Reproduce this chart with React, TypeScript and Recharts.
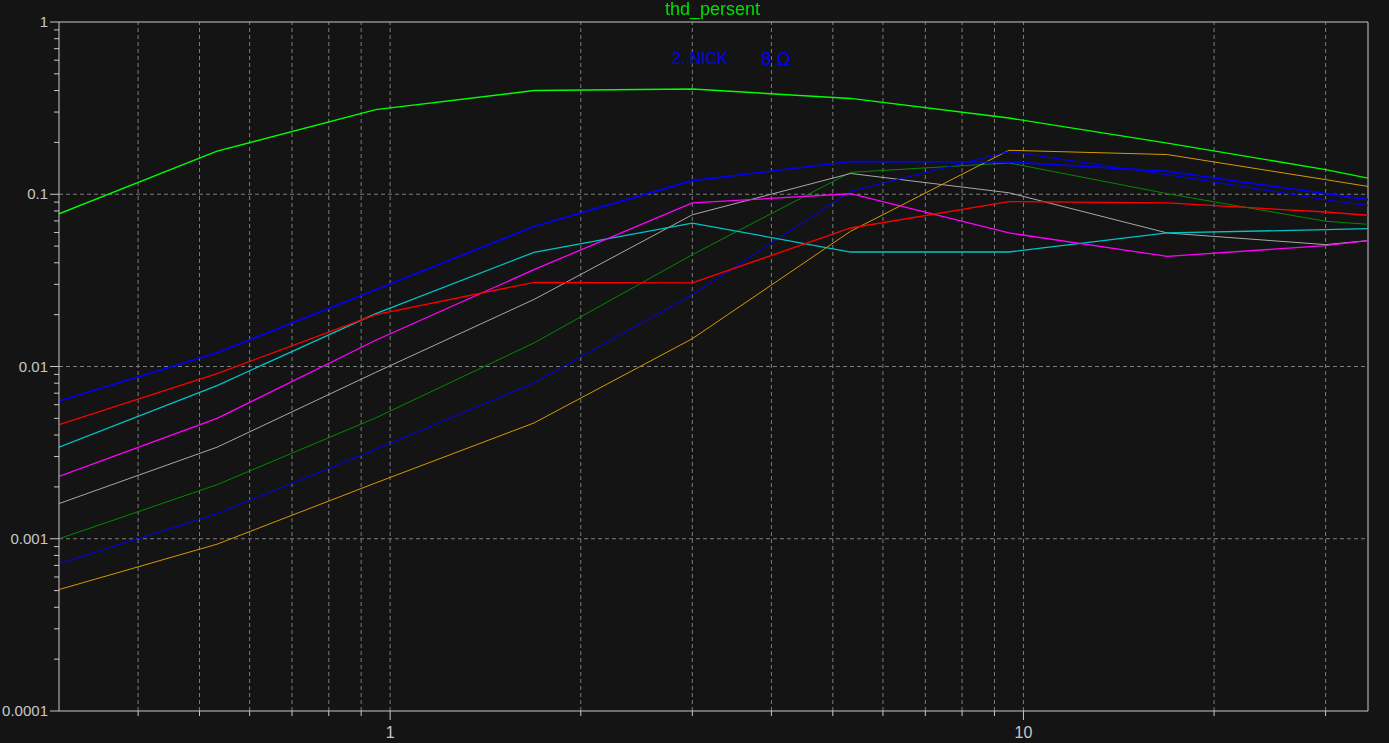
import React from 'react';
import { LineChart, Line, XAxis, YAxis, ReferenceLine } from 'recharts';

// frequency points (x, log scale)
const freqs = [0.3, 0.533, 0.949, 1.687, 3.0, 5.335, 9.487, 16.87, 30, 35];

// thd values per curve
const brightGreen = [0.077, 0.178, 0.31, 0.4, 0.408, 0.36, 0.277, 0.198, 0.139, 0.124];
const blueUpper = [0.0063, 0.012, 0.0279, 0.065, 0.12, 0.155, 0.154, 0.136, 0.1008, 0.093];
const red = [0.0046, 0.0091, 0.02, 0.0308, 0.0306, 0.0637, 0.0906, 0.089, 0.0789, 0.0755];
const cyan = [0.0034, 0.00775, 0.0203, 0.046, 0.068, 0.0462, 0.0462, 0.0596, 0.0623, 0.0631];
const magenta = [0.0023, 0.005, 0.0142, 0.0365, 0.089, 0.1007, 0.0596, 0.0436, 0.0503, 0.0538];
const gray = [0.0016, 0.0034, 0.00925, 0.0245, 0.076, 0.132, 0.102, 0.0596, 0.051, 0.0538];
const darkGreen = [0.001, 0.00206, 0.00503, 0.0137, 0.0446, 0.134, 0.152, 0.1008, 0.0697, 0.0669];
const blueLower = [0.000715, 0.0014, 0.0033, 0.00803, 0.0261, 0.104, 0.177, 0.13, 0.093, 0.0859];
const orange = [0.000507, 0.00093, 0.00211, 0.0047, 0.0145, 0.061, 0.18, 0.17, 0.1216, 0.111];

// axis ticks
const xTicks = [0.4, 0.5, 0.6, 0.7, 0.8, 0.9, 1, 2, 3, 4, 5, 6, 7, 8, 9, 10, 20, 30];
const xLabels = [1, 10];
const yDecades = [0.0001, 0.001, 0.01, 0.1, 1];
const yMinorSteps = [2, 3, 4, 5, 6, 7, 8, 9];
const yGrid = [0.001, 0.01, 0.1];

const yTicks = [
  ...yDecades,
  ...yDecades.slice(0, -1).flatMap(d => yMinorSteps.map(m => +(d * m).toPrecision(3))),
].sort((a, b) => a - b);

const series = [
  { key: 'darkGreen', values: darkGreen, color: '#008a00', width: 1 },
  { key: 'gray', values: gray, color: '#a8a8a8', width: 1 },
  { key: 'orange', values: orange, color: '#d49a00', width: 1 },
  { key: 'blueLower', values: blueLower, color: '#0000ff', width: 1 },
  { key: 'cyan', values: cyan, color: '#00c4c4', width: 1.3 },
  { key: 'magenta', values: magenta, color: '#ff00ff', width: 1.3 },
  { key: 'red', values: red, color: '#ff0000', width: 1.3 },
  { key: 'blueUpper', values: blueUpper, color: '#0000ff', width: 1.6 },
  { key: 'brightGreen', values: brightGreen, color: '#00ff00', width: 1.4 },
];

const data = freqs.map((f, i) => {
  const row: Record<string, number> = { f };
  series.forEach(s => { row[s.key] = s.values[i]; });
  return row;
});

const AXIS = '#c8c8c8';
const GRID = '#7c7c7c';
const FONT = '"Liberation Sans", Arial, sans-serif';

const XTick = (props: any) => {
  const { x, y, payload } = props;
  const major = xLabels.includes(payload.value);
  return (
    <g>
      <line x1={x} x2={x} y1={y} y2={y + (major ? 9 : 5)} stroke={AXIS} />
      {major && (
        <text x={x} y={y + 27} textAnchor="middle" fill={AXIS} fontSize={16} fontFamily={FONT}>
          {payload.value}
        </text>
      )}
    </g>
  );
};

const YTick = (props: any) => {
  const { x, y, payload } = props;
  const major = yDecades.includes(payload.value);
  return (
    <g>
      <line x1={x - (major ? 9 : 5)} x2={x} y1={y} y2={y} stroke={AXIS} />
      {major && (
        <text x={x - 11} y={y + 5} textAnchor="end" fill={AXIS} fontSize={15} fontFamily={FONT}>
          {String(payload.value)}
        </text>
      )}
    </g>
  );
};

export default function App() {
  return (
    <div style={{ position: 'fixed', left: 0, top: 0, width: 1389, height: 743, background: '#141414' }}>
      <LineChart width={1389} height={743} data={data} margin={{ top: 22, right: 21, bottom: 0, left: 0 }}>
        {xTicks.map(v => (
          <ReferenceLine key={'gx' + v} x={v} stroke={GRID} strokeDasharray="4 3" />
        ))}
        {yGrid.map(v => (
          <ReferenceLine key={'gy' + v} y={v} stroke={GRID} strokeDasharray="4 3" />
        ))}
        <ReferenceLine y={1} stroke={AXIS} />
        <ReferenceLine x={35} stroke={AXIS} />
        <XAxis
          dataKey="f"
          type="number"
          scale="log"
          domain={[0.3, 35]}
          allowDataOverflow
          ticks={xTicks}
          interval={0}
          tickSize={0}
          tickMargin={0}
          height={32}
          stroke={AXIS}
          tick={<XTick />}
        />
        <YAxis
          type="number"
          scale="log"
          domain={[0.0001, 1]}
          allowDataOverflow
          ticks={yTicks}
          interval={0}
          tickSize={0}
          tickMargin={0}
          width={59}
          stroke={AXIS}
          tick={<YTick />}
        />
        {series.map(s => (
          <Line
            key={s.key}
            dataKey={s.key}
            type="linear"
            stroke={s.color}
            strokeWidth={s.width}
            dot={false}
            isAnimationActive={false}
          />
        ))}
      </LineChart>
      <div style={{ position: 'absolute', left: 0, width: 1425, top: -1, textAlign: 'center', color: '#00e000', fontSize: 18, fontFamily: FONT }}>
        thd_persent
      </div>
      <div style={{ position: 'absolute', left: 672, top: 50, color: '#0000ff', fontSize: 16, fontFamily: FONT }}>
        2. NICK
      </div>
      <div style={{ position: 'absolute', left: 761, top: 49, color: '#0000ff', fontSize: 17, fontFamily: '"DejaVu Sans", sans-serif' }}>
        8 Ω
      </div>
    </div>
  );
}
